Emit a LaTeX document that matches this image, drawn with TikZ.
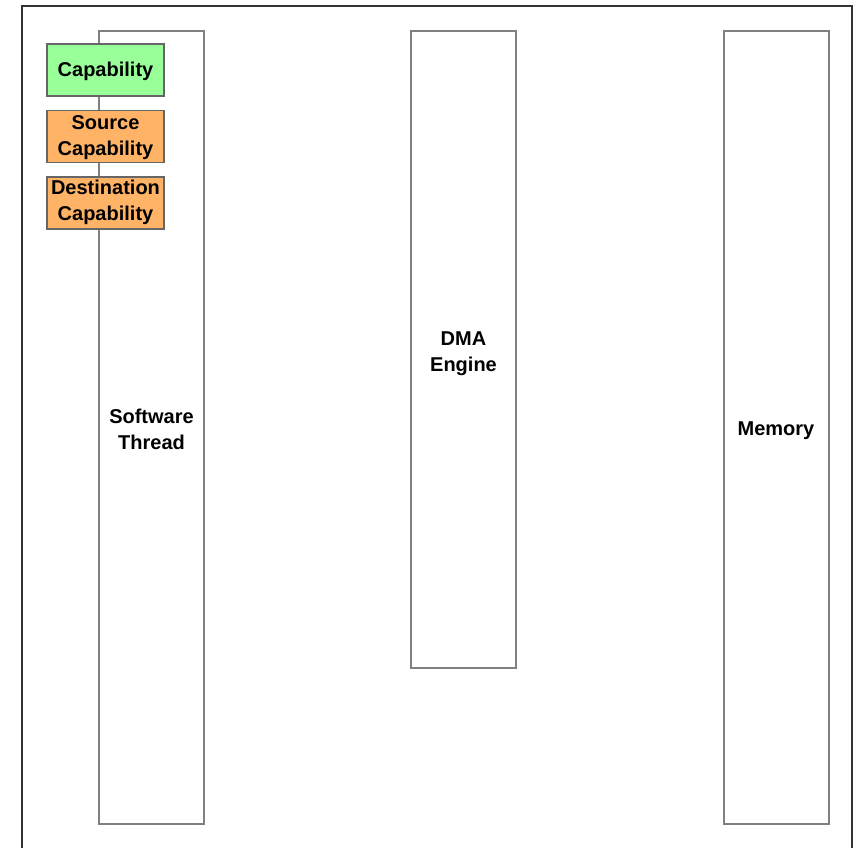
\documentclass[tikz,border=0pt]{standalone}
\usepackage{fontspec}
\setmainfont{Liberation Sans}
\usepackage{xcolor}
\usepackage{tikz}
\usetikzlibrary{positioning}
\definecolor{framegray}{HTML}{333333}
\definecolor{lanegray}{HTML}{808080}
\definecolor{capgreen}{HTML}{99FF99}
\definecolor{caporange}{HTML}{FFB366}
% text lowered a little inside its box, box size kept
\newcommand{\boxtext}[2][0pt]{\raisebox{-#1}[\height][\depth]{\begin{tabular}{@{}c@{}}#2\end{tabular}}}

\begin{document}
\begin{tikzpicture}[
  x=1pt, y=-1pt,
  font=\fontsize{20}{26}\selectfont\bfseries,
  lanebox/.style={draw=lanegray, line width=2pt, fill=white,
    minimum width=105pt, inner sep=0pt},
  capbox/.style={draw=black!60, line width=1.6pt, minimum width=117pt,
    minimum height=52pt, inner sep=0pt}
]
\useasboundingbox (0,0) rectangle (858,847);
% ---------------- outer frame ----------------
\draw[framegray, line width=2pt] (22,850) |- (852,6) -- (852,850);
% ---------------- lanes ----------------
\node[lanebox, minimum height=793pt] (thread) at (151.5,427.5) {\boxtext[3.5pt]{Software\\Thread}};
\node[lanebox, minimum height=637pt] (dma) at (463.5,349.5) {\boxtext[3.5pt]{DMA\\Engine}};
\node[lanebox, minimum height=793pt] (mem) at (776,427.5) {\boxtext[3pt]{Memory}};
% ---------------- capabilities ----------------
\node[capbox, fill=capgreen] (cap) at (105.5,70) {\boxtext[1.5pt]{Capability}};
\node[capbox, fill=caporange, below=13pt of cap] (srccap) {\boxtext[0.5pt]{Source\\Capability}};
\node[capbox, fill=caporange, below=13pt of srccap] (dstcap) {\boxtext[-0.5pt]{Destination\\Capability}};
\end{tikzpicture}
\end{document}
